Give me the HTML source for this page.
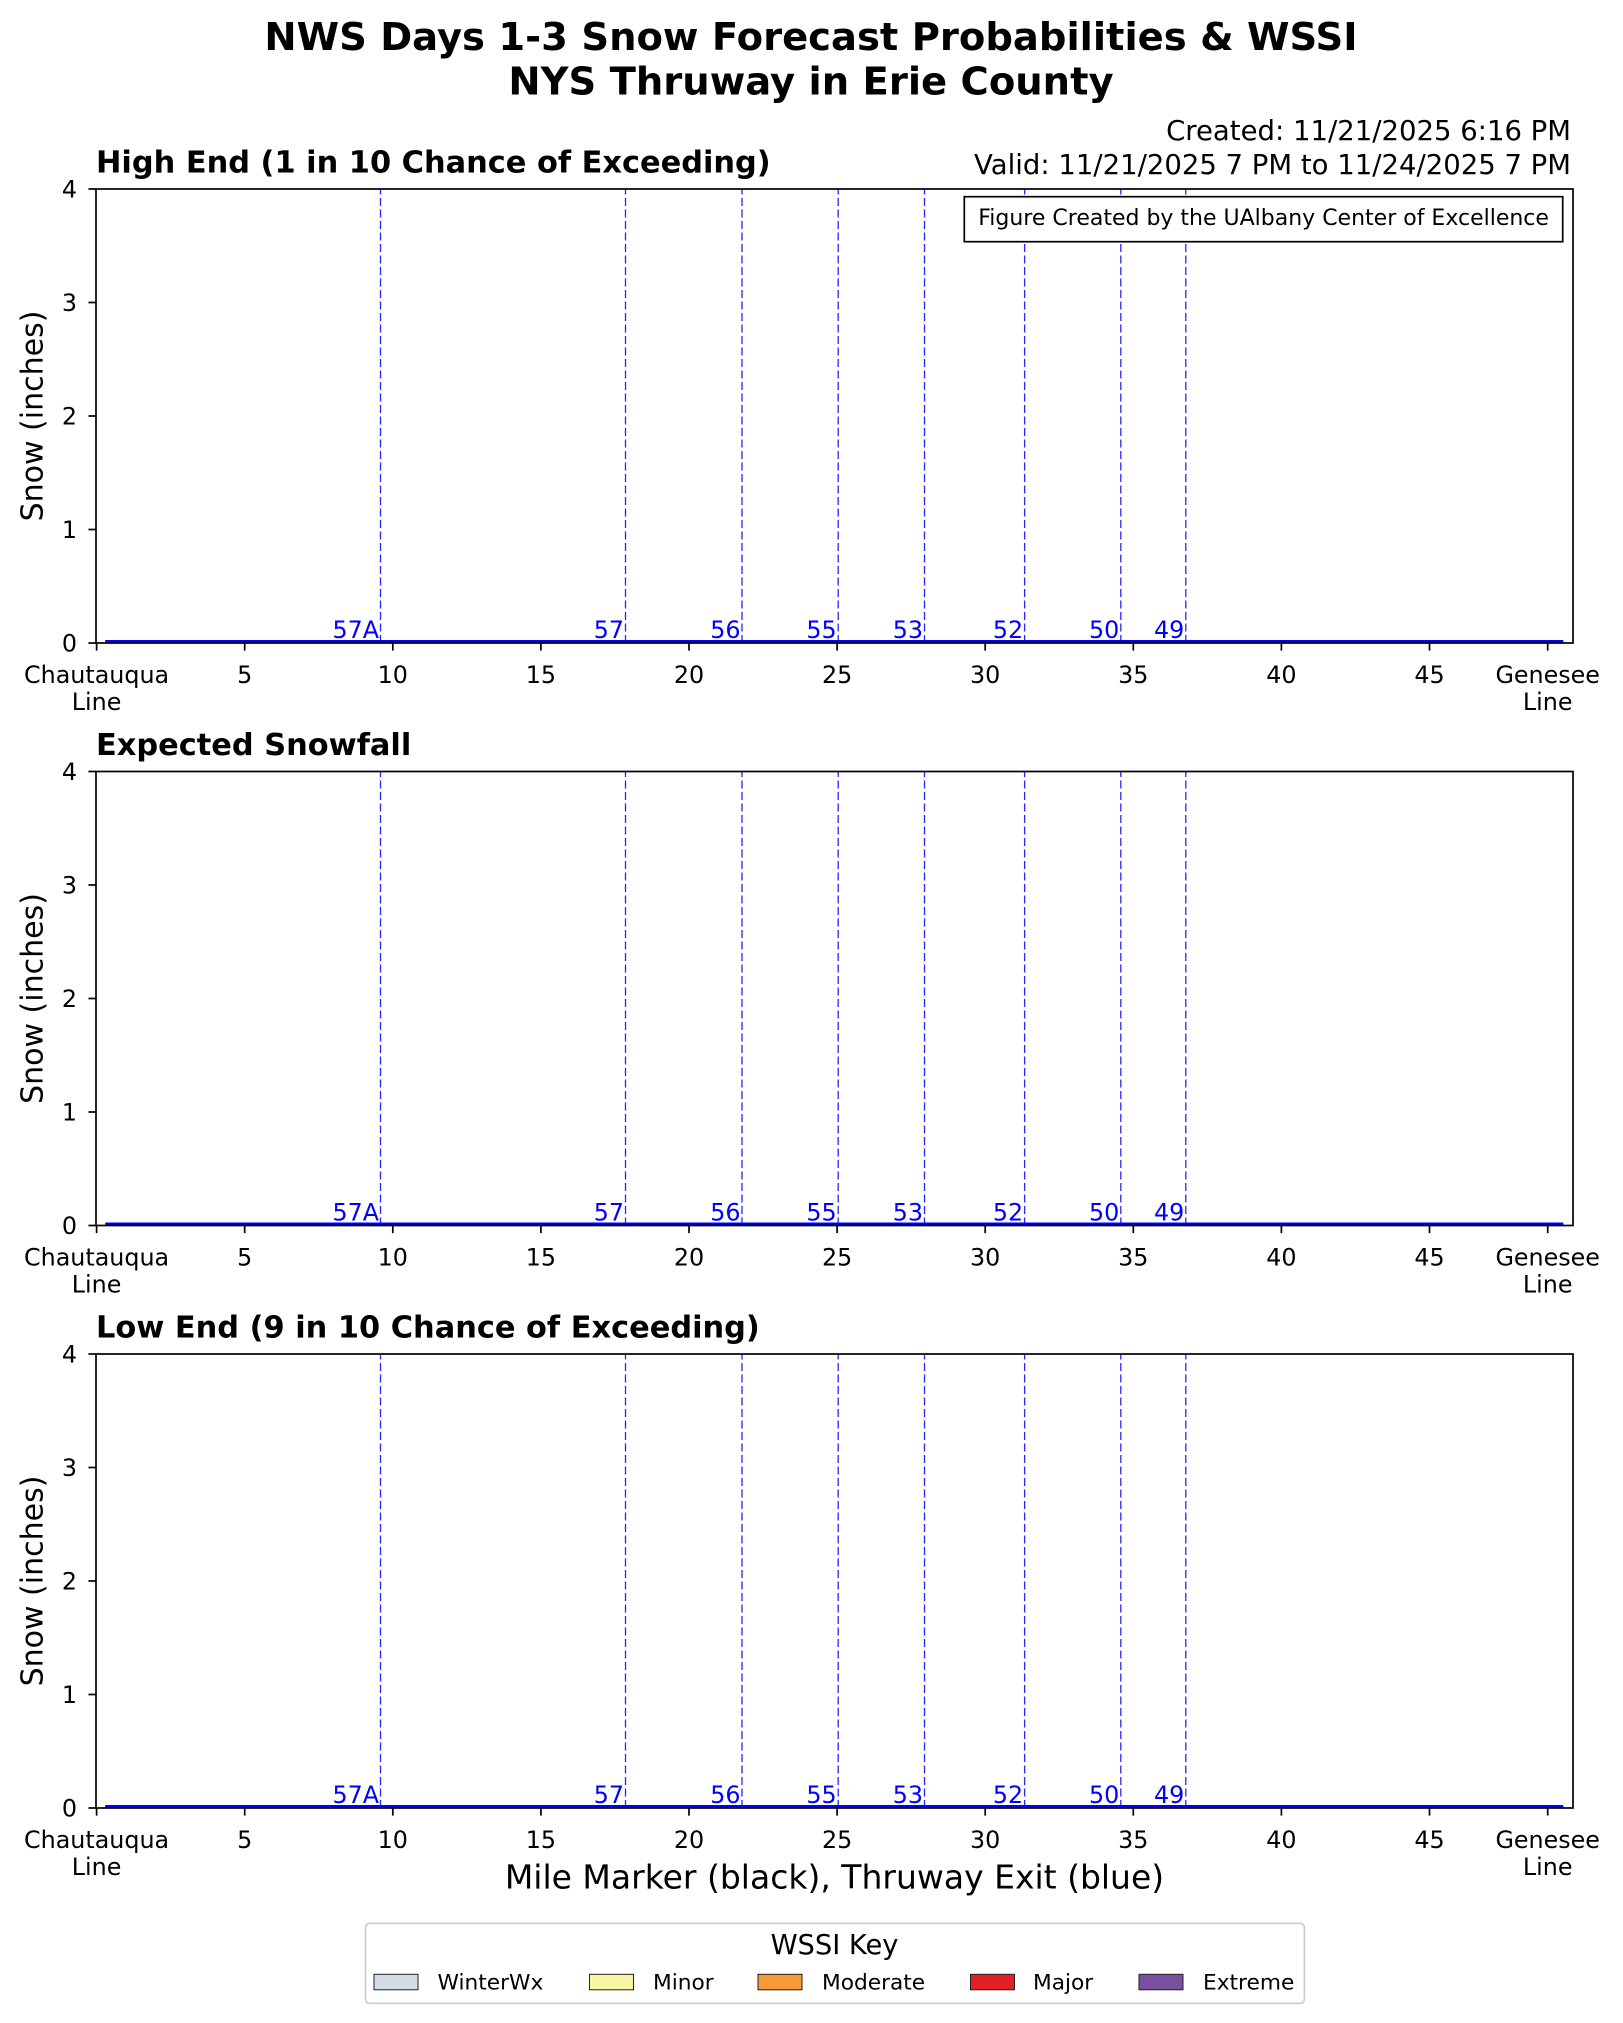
<!DOCTYPE html>
<html><head><meta charset="utf-8"><style>
html,body{margin:0;padding:0;background:#fff;}
svg{display:block;}
text{font-family:"DejaVu Sans","Liberation Sans",sans-serif;}
</style></head><body>
<svg xmlns="http://www.w3.org/2000/svg" width="1623" height="2023" viewBox="0 0 1623 2023">
<rect x="0" y="0" width="1623" height="2023" fill="#fff"/>
<!-- main title -->
<text x="811" y="50" font-size="38.5" font-weight="bold" text-anchor="middle">NWS Days 1-3 Snow Forecast Probabilities &amp; WSSI</text>
<text x="811" y="94.3" font-size="38.5" font-weight="bold" text-anchor="middle">NYS Thruway in Erie County</text>
<text x="1571" y="140" font-size="27.5" text-anchor="end">Created: 11/21/2025 6:16 PM</text>
<text x="1571" y="174" font-size="27.5" text-anchor="end">Valid: 11/21/2025 7 PM to 11/24/2025 7 PM</text>

<!-- SUBPLOT 1 -->
<g transform="translate(0,189)">
<text x="96" y="-16.5" font-size="30.4" font-weight="bold">High End (1 in 10 Chance of Exceeding)</text>
<g stroke="#0000ff" stroke-width="1.3" stroke-dasharray="8 3.5" opacity="0.85">
<line x1="380.5" y1="454" x2="380.5" y2="0"/><line x1="625.5" y1="454" x2="625.5" y2="0"/><line x1="742" y1="454" x2="742" y2="0"/><line x1="838.2" y1="454" x2="838.2" y2="0"/><line x1="924.5" y1="454" x2="924.5" y2="0"/><line x1="1024.6" y1="454" x2="1024.6" y2="0"/><line x1="1120.8" y1="454" x2="1120.8" y2="0"/><line x1="1185.8" y1="454" x2="1185.8" y2="0"/>
</g>
<g fill="#0000ff" font-size="23.8" text-anchor="end">
<text x="379" y="449">57A</text><text x="624" y="449">57</text><text x="740.5" y="449">56</text><text x="836.7" y="449">55</text><text x="923" y="449">53</text><text x="1023.1" y="449">52</text><text x="1119.3" y="449">50</text><text x="1184.3" y="449">49</text>
</g>
<line x1="105.2" y1="452.3" x2="1563.3" y2="452.3" stroke="#0000ff" stroke-width="2.6"/>
<rect x="96" y="0" width="1477" height="454" fill="none" stroke="#000" stroke-width="1.7"/>
<g stroke="#000" stroke-width="1.7">
<line x1="88.4" y1="454" x2="96" y2="454"/><line x1="88.4" y1="340.5" x2="96" y2="340.5"/><line x1="88.4" y1="227" x2="96" y2="227"/><line x1="88.4" y1="113.5" x2="96" y2="113.5"/><line x1="88.4" y1="0" x2="96" y2="0"/>
<line x1="96.6" y1="454" x2="96.6" y2="461.6"/><line x1="244.7" y1="454" x2="244.7" y2="461.6"/><line x1="392.8" y1="454" x2="392.8" y2="461.6"/><line x1="540.9" y1="454" x2="540.9" y2="461.6"/><line x1="689" y1="454" x2="689" y2="461.6"/><line x1="837.1" y1="454" x2="837.1" y2="461.6"/><line x1="985.2" y1="454" x2="985.2" y2="461.6"/><line x1="1133.3" y1="454" x2="1133.3" y2="461.6"/><line x1="1281.4" y1="454" x2="1281.4" y2="461.6"/><line x1="1429.5" y1="454" x2="1429.5" y2="461.6"/><line x1="1547.7" y1="454" x2="1547.7" y2="461.6"/>
</g>
<g font-size="23.8" text-anchor="end">
<text x="77" y="462.7">0</text><text x="77" y="349.2">1</text><text x="77" y="235.7">2</text><text x="77" y="122.2">3</text><text x="77" y="8.7">4</text>
</g>
<g font-size="23.8" text-anchor="middle">
<text x="96.6" y="494">Chautauqua</text><text x="96.6" y="521">Line</text>
<text x="244.7" y="494">5</text><text x="392.8" y="494">10</text><text x="540.9" y="494">15</text><text x="689" y="494">20</text><text x="837.1" y="494">25</text><text x="985.2" y="494">30</text><text x="1133.3" y="494">35</text><text x="1281.4" y="494">40</text><text x="1429.5" y="494">45</text>
<text x="1547.7" y="494">Genesee</text><text x="1547.7" y="521">Line</text>
</g>
<text transform="translate(42.5,227) rotate(-90)" font-size="30" text-anchor="middle">Snow (inches)</text>
</g>
<!-- annotation box -->
<rect x="964.3" y="196.7" width="598.4" height="45" fill="#fff" stroke="#000" stroke-width="1.7"/>
<text x="1263.6" y="225" font-size="22" text-anchor="middle">Figure Created by the UAlbany Center of Excellence</text>

<!-- SUBPLOT 2 -->
<g transform="translate(0,771.5)">
<text x="96" y="-16.5" font-size="30.4" font-weight="bold">Expected Snowfall</text>
<g stroke="#0000ff" stroke-width="1.3" stroke-dasharray="8 3.5" opacity="0.85">
<line x1="380.5" y1="454" x2="380.5" y2="0"/><line x1="625.5" y1="454" x2="625.5" y2="0"/><line x1="742" y1="454" x2="742" y2="0"/><line x1="838.2" y1="454" x2="838.2" y2="0"/><line x1="924.5" y1="454" x2="924.5" y2="0"/><line x1="1024.6" y1="454" x2="1024.6" y2="0"/><line x1="1120.8" y1="454" x2="1120.8" y2="0"/><line x1="1185.8" y1="454" x2="1185.8" y2="0"/>
</g>
<g fill="#0000ff" font-size="23.8" text-anchor="end">
<text x="379" y="449">57A</text><text x="624" y="449">57</text><text x="740.5" y="449">56</text><text x="836.7" y="449">55</text><text x="923" y="449">53</text><text x="1023.1" y="449">52</text><text x="1119.3" y="449">50</text><text x="1184.3" y="449">49</text>
</g>
<line x1="105.2" y1="452.3" x2="1563.3" y2="452.3" stroke="#0000ff" stroke-width="2.6"/>
<rect x="96" y="0" width="1477" height="454" fill="none" stroke="#000" stroke-width="1.7"/>
<g stroke="#000" stroke-width="1.7">
<line x1="88.4" y1="454" x2="96" y2="454"/><line x1="88.4" y1="340.5" x2="96" y2="340.5"/><line x1="88.4" y1="227" x2="96" y2="227"/><line x1="88.4" y1="113.5" x2="96" y2="113.5"/><line x1="88.4" y1="0" x2="96" y2="0"/>
<line x1="96.6" y1="454" x2="96.6" y2="461.6"/><line x1="244.7" y1="454" x2="244.7" y2="461.6"/><line x1="392.8" y1="454" x2="392.8" y2="461.6"/><line x1="540.9" y1="454" x2="540.9" y2="461.6"/><line x1="689" y1="454" x2="689" y2="461.6"/><line x1="837.1" y1="454" x2="837.1" y2="461.6"/><line x1="985.2" y1="454" x2="985.2" y2="461.6"/><line x1="1133.3" y1="454" x2="1133.3" y2="461.6"/><line x1="1281.4" y1="454" x2="1281.4" y2="461.6"/><line x1="1429.5" y1="454" x2="1429.5" y2="461.6"/><line x1="1547.7" y1="454" x2="1547.7" y2="461.6"/>
</g>
<g font-size="23.8" text-anchor="end">
<text x="77" y="462.7">0</text><text x="77" y="349.2">1</text><text x="77" y="235.7">2</text><text x="77" y="122.2">3</text><text x="77" y="8.7">4</text>
</g>
<g font-size="23.8" text-anchor="middle">
<text x="96.6" y="494">Chautauqua</text><text x="96.6" y="521">Line</text>
<text x="244.7" y="494">5</text><text x="392.8" y="494">10</text><text x="540.9" y="494">15</text><text x="689" y="494">20</text><text x="837.1" y="494">25</text><text x="985.2" y="494">30</text><text x="1133.3" y="494">35</text><text x="1281.4" y="494">40</text><text x="1429.5" y="494">45</text>
<text x="1547.7" y="494">Genesee</text><text x="1547.7" y="521">Line</text>
</g>
<text transform="translate(42.5,227) rotate(-90)" font-size="30" text-anchor="middle">Snow (inches)</text>
</g>

<!-- SUBPLOT 3 -->
<g transform="translate(0,1354)">
<text x="96" y="-16.5" font-size="30.4" font-weight="bold">Low End (9 in 10 Chance of Exceeding)</text>
<g stroke="#0000ff" stroke-width="1.3" stroke-dasharray="8 3.5" opacity="0.85">
<line x1="380.5" y1="454" x2="380.5" y2="0"/><line x1="625.5" y1="454" x2="625.5" y2="0"/><line x1="742" y1="454" x2="742" y2="0"/><line x1="838.2" y1="454" x2="838.2" y2="0"/><line x1="924.5" y1="454" x2="924.5" y2="0"/><line x1="1024.6" y1="454" x2="1024.6" y2="0"/><line x1="1120.8" y1="454" x2="1120.8" y2="0"/><line x1="1185.8" y1="454" x2="1185.8" y2="0"/>
</g>
<g fill="#0000ff" font-size="23.8" text-anchor="end">
<text x="379" y="449">57A</text><text x="624" y="449">57</text><text x="740.5" y="449">56</text><text x="836.7" y="449">55</text><text x="923" y="449">53</text><text x="1023.1" y="449">52</text><text x="1119.3" y="449">50</text><text x="1184.3" y="449">49</text>
</g>
<line x1="105.2" y1="452.3" x2="1563.3" y2="452.3" stroke="#0000ff" stroke-width="2.6"/>
<rect x="96" y="0" width="1477" height="454" fill="none" stroke="#000" stroke-width="1.7"/>
<g stroke="#000" stroke-width="1.7">
<line x1="88.4" y1="454" x2="96" y2="454"/><line x1="88.4" y1="340.5" x2="96" y2="340.5"/><line x1="88.4" y1="227" x2="96" y2="227"/><line x1="88.4" y1="113.5" x2="96" y2="113.5"/><line x1="88.4" y1="0" x2="96" y2="0"/>
<line x1="96.6" y1="454" x2="96.6" y2="461.6"/><line x1="244.7" y1="454" x2="244.7" y2="461.6"/><line x1="392.8" y1="454" x2="392.8" y2="461.6"/><line x1="540.9" y1="454" x2="540.9" y2="461.6"/><line x1="689" y1="454" x2="689" y2="461.6"/><line x1="837.1" y1="454" x2="837.1" y2="461.6"/><line x1="985.2" y1="454" x2="985.2" y2="461.6"/><line x1="1133.3" y1="454" x2="1133.3" y2="461.6"/><line x1="1281.4" y1="454" x2="1281.4" y2="461.6"/><line x1="1429.5" y1="454" x2="1429.5" y2="461.6"/><line x1="1547.7" y1="454" x2="1547.7" y2="461.6"/>
</g>
<g font-size="23.8" text-anchor="end">
<text x="77" y="462.7">0</text><text x="77" y="349.2">1</text><text x="77" y="235.7">2</text><text x="77" y="122.2">3</text><text x="77" y="8.7">4</text>
</g>
<g font-size="23.8" text-anchor="middle">
<text x="96.6" y="494">Chautauqua</text><text x="96.6" y="521">Line</text>
<text x="244.7" y="494">5</text><text x="392.8" y="494">10</text><text x="540.9" y="494">15</text><text x="689" y="494">20</text><text x="837.1" y="494">25</text><text x="985.2" y="494">30</text><text x="1133.3" y="494">35</text><text x="1281.4" y="494">40</text><text x="1429.5" y="494">45</text>
<text x="1547.7" y="494">Genesee</text><text x="1547.7" y="521">Line</text>
</g>
<text transform="translate(42.5,227) rotate(-90)" font-size="30" text-anchor="middle">Snow (inches)</text>
</g>

<!-- x label -->
<text x="834.5" y="1888.3" font-size="33" text-anchor="middle">Mile Marker (black), Thruway Exit (blue)</text>

<!-- legend -->
<rect x="365.6" y="1923.3" width="938.8" height="80" rx="4" ry="4" fill="#fff" stroke="#cccccc" stroke-width="1.7"/>
<text x="834.5" y="1954" font-size="27.3" text-anchor="middle">WSSI Key</text>
<g stroke="#222" stroke-width="1">
<rect x="374" y="1974.3" width="44" height="15.5" fill="#d1dde5"/>
<rect x="589.5" y="1974.3" width="44" height="15.5" fill="#f8f5a5"/>
<rect x="758" y="1974.3" width="44" height="15.5" fill="#f49a36"/>
<rect x="970.5" y="1974.3" width="44" height="15.5" fill="#e31f26"/>
<rect x="1139" y="1974.3" width="44" height="15.5" fill="#7a51a0"/>
</g>
<g font-size="21.7">
<text x="437.5" y="1989.3">WinterWx</text>
<text x="653" y="1989.3">Minor</text>
<text x="822" y="1989.3">Moderate</text>
<text x="1033" y="1989.3">Major</text>
<text x="1203" y="1989.3">Extreme</text>
</g>
</svg>
</body></html>
